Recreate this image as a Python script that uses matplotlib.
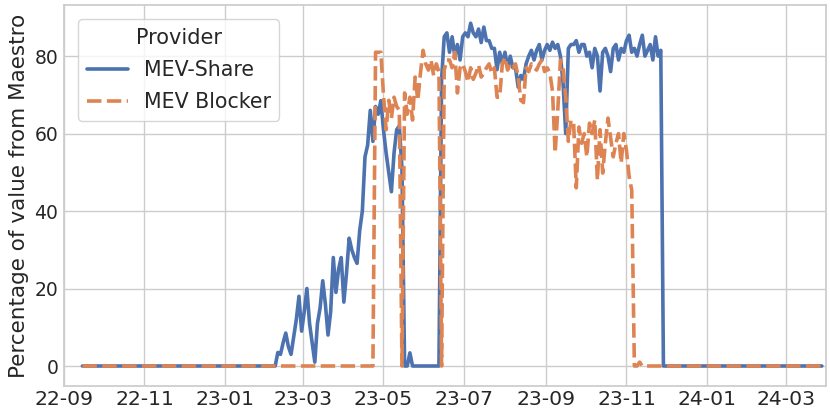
import matplotlib
matplotlib.use("Agg")
import matplotlib.pyplot as plt
import matplotlib.dates as mdates
import pandas as pd
import seaborn as sns

# daily-ish samples (every 2 days)
dates = pd.date_range("2022-09-15", periods=281, freq="2D")

share_ramp = [3.5, 3, 6, 8.5, 5, 3, 7.5, 12, 18, 9, 14, 20, 11, 6, 1, 11,
              15, 22, 16, 8, 14, 28, 19, 25, 28, 16.5, 24, 33, 30, 28, 26.5, 35,
              40, 54, 57, 66, 58, 67, 65, 68.5, 61, 55, 50, 45, 55, 61, 62, 51]
share_gap = [0, 0, 3.4, 0, 0, 0, 0, 0, 0, 0, 0, 0, 0, 0]
share_high = [74, 85, 86, 81, 85, 80, 83, 79, 85, 86, 85, 88.5, 86, 85, 87,
              83.5, 87.5, 84, 84, 82, 82, 76.5, 81, 78, 81, 77, 80, 77, 77, 72,
              75, 74, 78, 80, 81.5, 79, 81.5, 83, 79, 81.5, 83, 81.5, 83.6, 82,
              83, 80, 73, 60, 82, 83, 83, 84, 81, 83, 83, 80, 81, 77, 82, 80,
              71, 81, 82, 80, 76, 82, 83, 79, 82, 81, 84, 85.4, 81, 82, 80, 83,
              85.4, 80, 81.5, 83, 79, 85, 80, 81.5]
mev_share = [0] * 74 + share_ramp + share_gap + share_high + [0] * 61

blocker_active = [81, 81, 81, 70, 61, 68.6, 64, 69.4, 67, 66, 0, 70.5, 65,
                  69.4, 63.5, 74.6, 68.6, 75.6, 81.5, 78, 76.4, 79, 75, 78, 76,
                  0, 76.4, 79, 79, 77, 81, 70.5, 77, 78, 76, 73.3, 77, 74, 75.6,
                  77.7, 74.6, 75.6, 77, 78, 75.6, 77, 69.4, 69.4, 78, 79.7, 76.4,
                  78, 77, 78, 74.6, 68.6, 68, 77, 76, 78, 77, 76.4, 78, 79, 76,
                  77, 75.6, 71, 55, 66, 79, 77, 69.4, 58, 63.5, 62.7, 46, 61.7,
                  57.5, 60, 54, 62.7, 60, 63.5, 48, 61, 49.8, 57.5, 64, 59, 54,
                  57.5, 60, 52.4, 60, 55.7, 49, 45.4]
mev_blocker = [0] * 111 + blocker_active + [0, 0, 1] + [0] * 69

sns.set_theme(style="whitegrid")
plt.rcParams["font.family"] = ["DejaVu Sans"]

fig, ax = plt.subplots(figsize=(8.3, 4.17), dpi=100)
fig.subplots_adjust(left=0.077, right=0.995, top=0.988, bottom=0.074)

pal = sns.color_palette("deep")
ax.plot(dates, mev_share, color=pal[0], lw=2.6, label="MEV-Share")
ax.plot(dates, mev_blocker, color=pal[1], lw=2.6, dashes=(4, 1.5),
        label="MEV Blocker")

ax.set_xlim(pd.Timestamp("2022-09-01"), pd.Timestamp("2024-03-31"))
ax.set_ylim(-5.2, 93.2)
ax.xaxis.set_major_locator(mdates.MonthLocator(bymonth=[1, 3, 5, 7, 9, 11]))
ax.xaxis.set_major_formatter(mdates.DateFormatter("%y-%m"))
ax.tick_params(axis="both", length=0)
ax.tick_params(axis="x", labelsize=14.7, pad=3)
ax.tick_params(axis="y", labelsize=13.5, pad=4)
ax.set_ylabel("Percentage of value from Maestro", fontsize=15.5)

leg = ax.legend(title="Provider", loc="upper left", fontsize=14.8,
                title_fontsize=15, borderaxespad=0.7, labelspacing=0.6)

fig.savefig("out.png", dpi=100)
plt.close(fig)
